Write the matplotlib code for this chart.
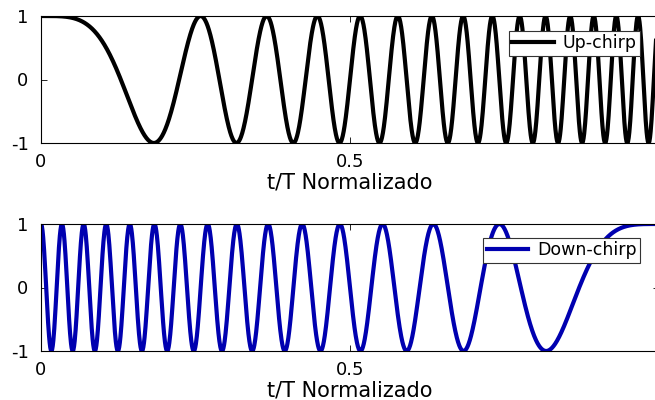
import numpy as np
import matplotlib
matplotlib.use("Agg")
import matplotlib.pyplot as plt

# chirp parameters (phase = pi * K * t^2, K ~ 30)
CHIRP_RATE = 30.0
N_POINTS = 2000
T_NORM = np.linspace(0.0, 1.0, N_POINTS)

SERIES = ["Up-chirp", "Down-chirp"]
COLORS = {"Up-chirp": "#000000", "Down-chirp": "#0000b0"}
X_TICKS = [0, 0.5, 1]
X_TICK_LABELS = ["0", "0.5", "1"]
Y_TICKS = [-1, 0, 1]
Y_TICK_LABELS = ["-1", "0", "1"]
XLABEL = "t/T Normalizado"

up = np.cos(np.pi * CHIRP_RATE * T_NORM ** 2)
down = np.cos(np.pi * CHIRP_RATE * (1.0 - T_NORM) ** 2)
signals = {"Up-chirp": up, "Down-chirp": down}

plt.rcParams["font.family"] = ["DejaVu Sans"]

fig = plt.figure(figsize=(6.55, 4.0), dpi=100)
W, H = 655.0, 400.0
left, right = 41 / W, 659 / W
boxes = [(16, 143), (224, 351)]
legend_anchor = [(640, 31), (640, 238)]

for name, (top, bot), (lx, ly) in zip(SERIES, boxes, legend_anchor):
    ax = fig.add_axes([left, 1 - bot / H, right - left, (bot - top) / H])
    ax.plot(T_NORM, signals[name], color=COLORS[name], lw=3.0, label=name)
    ax.set_xlim(0, 1)
    ax.set_ylim(-1, 1)
    ax.set_xticks(X_TICKS)
    ax.set_xticklabels(X_TICK_LABELS, fontsize=13)
    ax.set_yticks(Y_TICKS)
    ax.set_yticklabels(Y_TICK_LABELS, fontsize=13)
    ax.tick_params(axis="x", direction="in", length=4, width=0.6, top=True, pad=7)
    ax.tick_params(axis="y", direction="in", length=4, width=0.6, right=True, pad=9)
    ax.set_xlabel(XLABEL, fontsize=15, labelpad=1)
    for s in ax.spines.values():
        s.set_linewidth(0.8)
    leg = ax.legend(loc="upper right", bbox_to_anchor=(lx / W, 1 - ly / H),
                    bbox_transform=fig.transFigure, fontsize=12.5, fancybox=False,
                    framealpha=1, edgecolor="#333333", handlelength=2.4,
                    borderpad=0.2, borderaxespad=0, handletextpad=0.5)
    leg.get_frame().set_linewidth(0.8)

fig.savefig("out.png", dpi=100)
